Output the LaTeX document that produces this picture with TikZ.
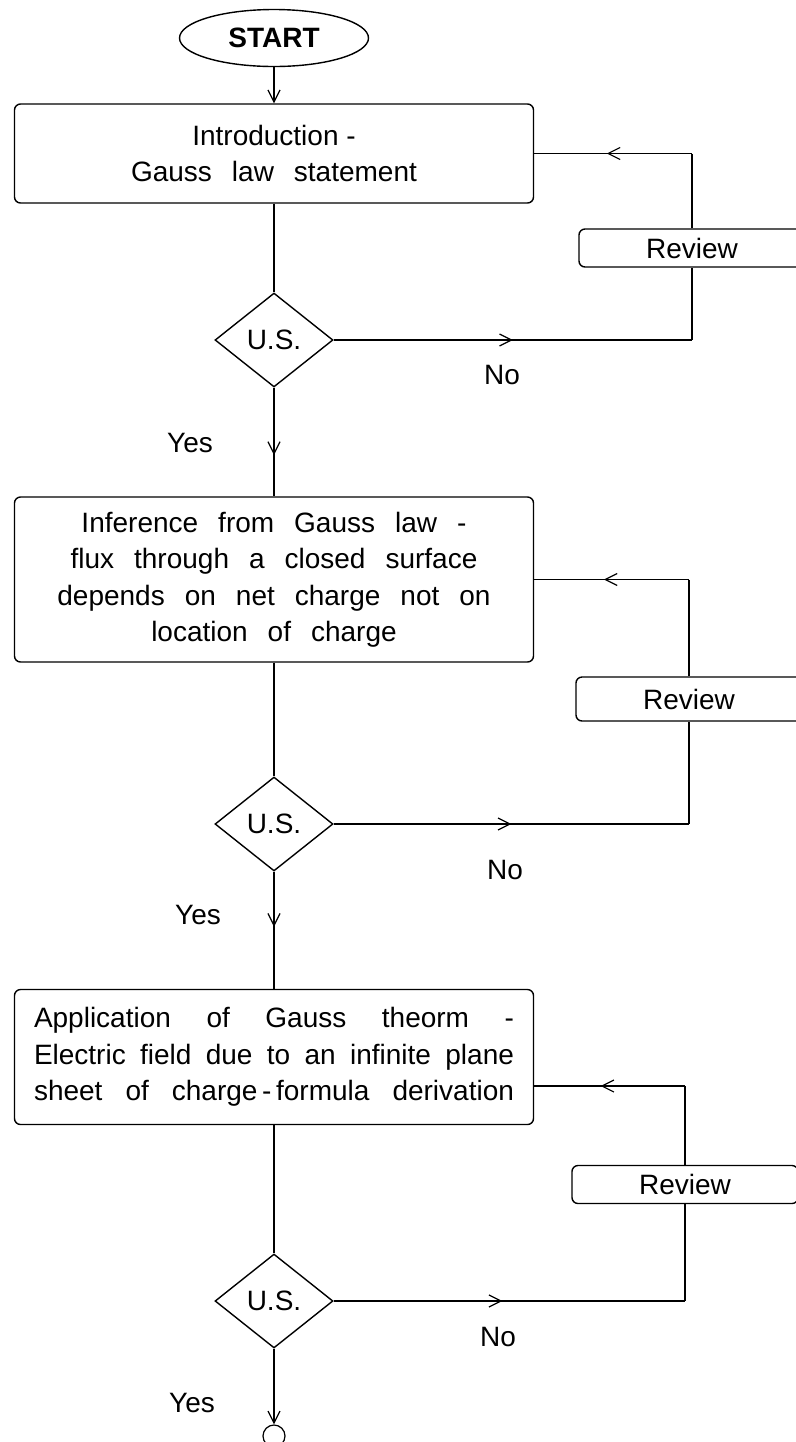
\documentclass[tikz,border=0pt]{standalone}
\usepackage{fontspec}
\setmainfont{Liberation Sans}
\usetikzlibrary{arrows.meta,shapes.geometric,decorations.markings,calc}

\newcommand{\widewords}{\spaceskip=10pt plus 2pt minus 1pt}

\tikzset{
  box/.style={draw,rounded corners=3pt,line width=0.7pt,minimum width=259.5pt,inner sep=0pt,align=center},
  test/.style={draw,diamond,line width=0.7pt,minimum width=59pt,minimum height=47pt,inner sep=0pt},
  review/.style={draw,rounded corners=3pt,line width=0.7pt,minimum width=113pt,minimum height=19pt,inner sep=0pt,fill=white},
  arrowat/.style={postaction={decorate},decoration={markings,mark=at position #1 with {\arrow{>}}}}
}

\begin{document}
\begin{tikzpicture}[x=0.5pt,y=-0.5pt,>={Straight Barb[length=6pt,width=6pt]},line width=0.6pt,
  font=\fontsize{14}{18.25}\selectfont]

\useasboundingbox (0,0) rectangle (796,1442);

\node[draw,ellipse,minimum width=94.5pt,minimum height=28.5pt,inner sep=0pt,line width=0.7pt,
  font=\fontsize{14}{18.25}\selectfont\bfseries] (start) at (274,38) {START};

\node[box,minimum height=49.5pt] (b1) at (274,153.5)
  {Introduction -\\\widewords Gauss law statement};
\node[box,minimum height=82.5pt] (b2) at (274,579.5)
  {\widewords Inference from Gauss law -\\\widewords flux through a closed surface\\
   \widewords depends on net charge not on\\\widewords location of charge};
\node[box,minimum height=67.5pt] (b3) at (274,1057)
  {\makebox[240pt][s]{Application of Gauss theorm -}\\
   \makebox[240pt][s]{Electric field due to an infinite plane}\\
   \makebox[240pt][s]{sheet of charge\,-\,formula derivation}};

\node[test] (d1) at (274,340) {U.S.};
\node[test] (d2) at (274,824) {U.S.};
\node[test] (d3) at (274,1301) {U.S.};

\node[review] (r1) at (692,248) {Review};
\node[review,minimum height=22pt] (r2) at (689,699) {Review};
\node[review] (r3) at (685,1184.5) {Review};

\node[draw,circle,minimum size=11pt,inner sep=0pt] (stop) at (274,1436) {};

\node (yes1) at (190,443) {Yes};
\node (yes2) at (198,915) {Yes};
\node (yes3) at (192,1403) {Yes};
\node (no1) at (502,375) {No};
\node (no2) at (505,870) {No};
\node (no3) at (498,1337) {No};

% main column
\draw[->] (start) -- (b1);
\draw (b1) -- (d1);
\draw[arrowat=0.62] (d1) -- (b2);
\draw (b2) -- (d2);
\draw[arrowat=0.47] (d2) -- (b3);
\draw (b3) -- (d3);
\draw[->] (d3) -- (stop);

% review loops
\draw[arrowat=0.5] (d1.east) -- (d1.east -| r1);
\draw (d1.east -| r1) -- (r1.south);
\draw (r1.north) -- (r1 |- b1.east);
\draw[arrowat=0.54] (r1 |- b1.east) -- (b1.east);

\draw[arrowat=0.5] (d2.east) -- (d2.east -| r2);
\draw (d2.east -| r2) -- (r2.south);
\draw (r2.north) -- (r2 |- b2.east);
\draw[arrowat=0.55] (r2 |- b2.east) -- (b2.east);

\coordinate (in3) at ($(b3.east)+(0,29)$);
\draw[arrowat=0.48] (d3.east) -- (d3.east -| r3);
\draw (d3.east -| r3) -- (r3.south);
\draw (r3.north) -- (r3 |- in3);
\draw[arrowat=0.56] (r3 |- in3) -- (in3);

\end{tikzpicture}
\end{document}
